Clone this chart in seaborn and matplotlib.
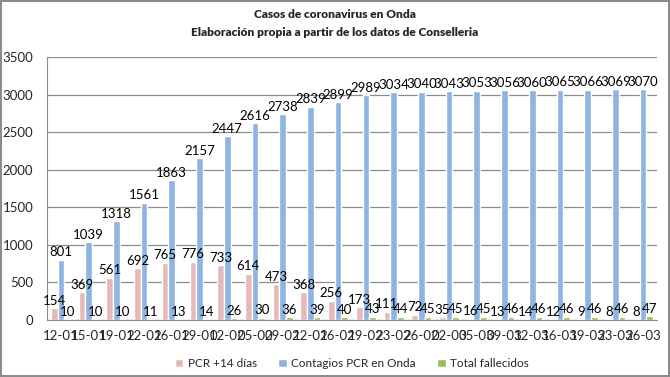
import pandas as pd
import matplotlib.pyplot as plt
import seaborn as sns

# Data
fechas = ["12-01", "15-01", "19-01", "22-01", "26-01", "29-01", "02-02", "05-02",
          "09-02", "12-02", "16-02", "19-02", "23-02", "26-02", "02-03", "05-03",
          "09-03", "12-03", "16-03", "19-03", "23-03", "26-03"]
pcr14 = [154, 369, 561, 692, 765, 776, 733, 614, 473, 368, 256, 173, 111, 72,
         35, 16, 13, 14, 12, 9, 8, 8]
contagios = [801, 1039, 1318, 1561, 1863, 2157, 2447, 2616, 2738, 2839, 2899,
             2989, 3034, 3040, 3043, 3053, 3056, 3060, 3065, 3066, 3069, 3070]
fallecidos = [10, 10, 10, 11, 13, 14, 26, 30, 36, 39, 40, 43, 44, 45, 45, 45,
              46, 46, 46, 46, 46, 47]
series = ["PCR +14 días", "Contagios PCR en Onda", "Total fallecidos"]
colores = ["#E6B9B8", "#8DB4E2", "#9BBB59"]


def runChart() -> None:
    sns.set_style("white")
    plt.rcParams["font.family"] = ["Lato", "DejaVu Sans"]

    rows = []
    for serie, vals in zip(series, [pcr14, contagios, fallecidos]):
        for f, v in zip(fechas, vals):
            rows.append({"fecha": f, "valor": v, "serie": serie})
    df = pd.DataFrame(rows)

    fig = plt.figure(figsize=(6.7, 3.77), dpi=100)
    fig.patch.set_edgecolor("#8c8c8c")
    fig.patch.set_linewidth(1.5)
    ax = fig.add_axes([47 / 670, 1 - 320 / 377, 610 / 670, 263 / 377])

    sns.barplot(data=df, x="fecha", y="valor", hue="serie", palette=colores,
                width=0.72, saturation=1, ax=ax, legend=True)

    # Value labels above every bar
    for cont in ax.containers:
        ax.bar_label(cont, padding=1, fontsize=9.5, color="black")

    ax.set_ylim(0, 3500)
    ax.set_yticks(range(0, 3501, 500))
    ax.yaxis.grid(True, color="#8c8c8c", linewidth=0.9)
    ax.set_axisbelow(True)
    ax.set_xlabel("")
    ax.set_ylabel("")
    for s in ["top", "right"]:
        ax.spines[s].set_visible(False)
    for s in ["left", "bottom"]:
        ax.spines[s].set_color("#8c8c8c")
    ax.tick_params(axis="both", length=0, labelsize=9.5)
    ax.tick_params(axis="x", pad=7)
    ax.tick_params(axis="y", pad=10)

    ax.legend(loc="upper center", bbox_to_anchor=(0.5, -0.105), ncol=3,
              frameon=False, fontsize=8.5, handlelength=0.7, handleheight=0.7,
              columnspacing=1.8, handletextpad=0.4)

    fig.text(0.5, 1 - 14 / 377, "Casos de coronavirus en Onda", ha="center",
             va="center", fontsize=8.6, fontweight="heavy")
    fig.text(0.5, 1 - 32 / 377, "Elaboración propia a partir de los datos de Conselleria",
             ha="center", va="center", fontsize=8.6, fontweight="heavy")

    fig.savefig("out.png", dpi=100)
    plt.close(fig)


if __name__ == "__main__":
    runChart()
